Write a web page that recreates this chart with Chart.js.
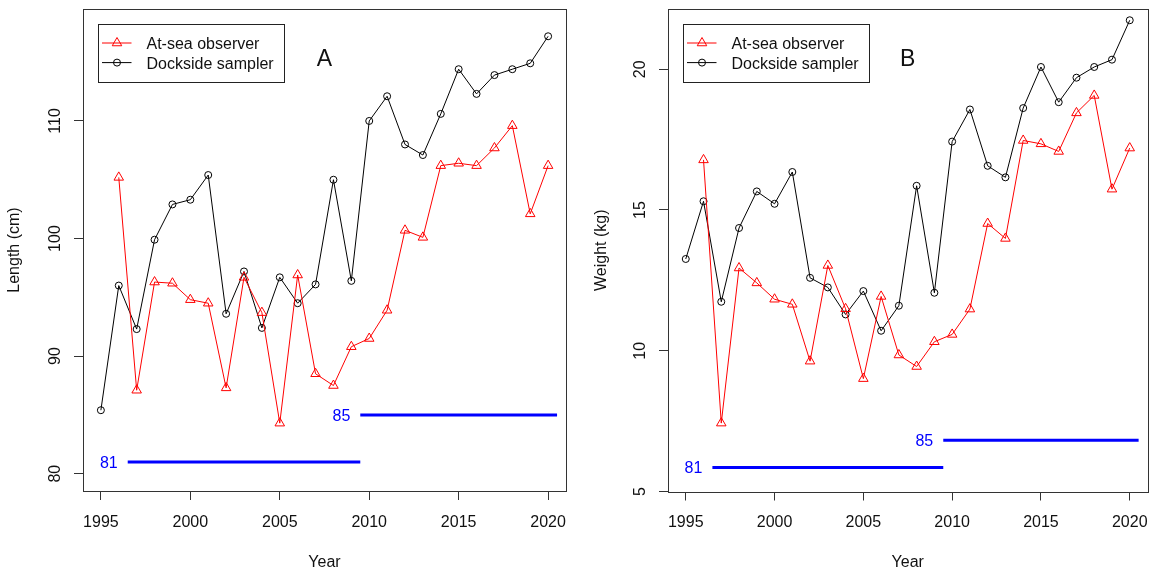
<!DOCTYPE html>
<html>
<head>
<meta charset="utf-8">
<script src="https://cdn.jsdelivr.net/npm/chart.js@4.4.0/dist/chart.umd.min.js"></script>
<style>
  html, body { margin: 0; padding: 0; background: #fff; }
  #wrap { position: relative; width: 1154px; height: 568px; }
  canvas { position: absolute; top: 0; }
</style>
</head>
<body>
<div id="wrap">
  <canvas id="panelA" width="577" height="568" style="left:0"></canvas>
  <canvas id="panelB" width="577" height="568" style="left:577px"></canvas>
</div>
<script>
const years = [1995, 1996, 1997, 1998, 1999, 2000, 2001, 2002, 2003, 2004, 2005, 2006, 2007,
               2008, 2009, 2010, 2011, 2012, 2013, 2014, 2015, 2016, 2017, 2018, 2019, 2020];

// panel A - length (cm)
const lengthObserver = [null, 105.2, 87.1, 96.3, 96.2, 94.8, 94.5, 87.3, 96.7, 93.7, 84.3, 96.9, 88.5,
                        87.5, 90.8, 91.5, 93.9, 100.7, 100.1, 106.2, 106.4, 106.2, 107.7, 109.6, 102.1, 106.2];
const lengthDockside = [85.4, 96.0, 92.3, 99.9, 102.9, 103.3, 105.4, 93.6, 97.2, 92.4, 96.7, 94.5, 96.1,
                        105.0, 96.4, 110.0, 112.1, 108.0, 107.1, 110.6, 114.4, 112.3, 113.9, 114.4, 114.9, 117.2];

// panel B - weight (kg)
const weightObserver = [null, 16.78, 7.43, 12.94, 12.41, 11.83, 11.65, 9.63, 13.03, 11.49, 9.01, 11.93, 9.85,
                        9.44, 10.32, 10.58, 11.48, 14.52, 13.99, 17.47, 17.35, 17.08, 18.45, 19.07, 15.74, 17.2];
const weightDockside = [13.26, 15.31, 11.74, 14.36, 15.66, 15.22, 16.35, 12.59, 12.25, 11.29, 12.12, 10.71, 11.6,
                        15.86, 12.06, 17.43, 18.57, 16.57, 16.16, 18.62, 20.08, 18.83, 19.7, 20.08, 20.34, 21.74];

// minimum size periods
const limitLabels = ['81', '85'];
const limitStart = [1996.5, 2009.5];
const limitEnd = [2009.5, 2020.5];
const lengthLimits = [81, 85];
const weightLimits = [5.85, 6.82];

const yearTicks = [1995, 2000, 2005, 2010, 2015, 2020];
const lengthTicks = [80, 90, 100, 110];
const weightTicks = [5, 10, 15, 20];

const FONT = '"Liberation Sans", Arial, Helvetica, sans-serif';
const pairs = (xs, ys) => xs.map((x, i) => ({ x: x, y: ys[i] }));

// box, rotated y labels, axis titles, legend, panel letter and limit labels (R style)
const rDecor = {
  id: 'rDecor',
  afterDraw(chart, args, o) {
    const { ctx, chartArea: a, scales: { x, y } } = chart;
    ctx.save();
    ctx.strokeStyle = '#333';
    ctx.lineWidth = 1;
    ctx.strokeRect(Math.round(a.left) + 0.5, Math.round(a.top) + 0.5,
                   Math.round(a.right - a.left), Math.round(a.bottom - a.top));

    ctx.fillStyle = '#111';
    ctx.font = '16px ' + FONT;
    ctx.textBaseline = 'alphabetic';

    // x tick labels
    ctx.textAlign = 'center';
    yearTicks.forEach(v => ctx.fillText(String(v), x.getPixelForValue(v), 527));

    // y tick labels, rotated
    o.yTicks.forEach(v => {
      ctx.save();
      ctx.translate(a.left - 29 + 5.7, y.getPixelForValue(v));
      ctx.rotate(-Math.PI / 2);
      ctx.fillText(String(v), 0, 0);
      ctx.restore();
    });

    // axis titles
    const midX = (a.left + a.right) / 2, midY = (a.top + a.bottom) / 2;
    ctx.fillText('Year', midX, 566.5);
    ctx.save();
    ctx.translate(o.yTitleX, midY);
    ctx.rotate(-Math.PI / 2);
    ctx.fillText(o.yTitle, 0, 0);
    ctx.restore();

    // panel letter
    ctx.font = '23px ' + FONT;
    ctx.fillText(o.letter, x.getPixelForValue(2007.5), 66);

    // limit labels
    ctx.font = '16px ' + FONT;
    ctx.fillStyle = '#0000ff';
    ctx.textAlign = 'right';
    limitLabels.forEach((t, i) => {
      ctx.fillText(t, x.getPixelForValue(limitStart[i]) - 10, y.getPixelForValue(o.limits[i]) + 5.7);
    });

    // legend
    const lx = a.left + 14.5, ly = a.top + 14.5;
    ctx.strokeStyle = '#222';
    ctx.strokeRect(Math.round(lx) + 0.5, Math.round(ly) + 0.5, 186, 58);
    ctx.textAlign = 'left';
    [0, 1].forEach(i => {
      const ds = chart.data.datasets[i];
      const ry = ly + 19.5 + i * 19.6;
      ctx.strokeStyle = ds.borderColor;
      ctx.lineWidth = 1;
      ctx.beginPath();
      ctx.moveTo(lx + 4.5, ry);
      ctx.lineTo(lx + 34, ry);
      ctx.stroke();
      ctx.fillStyle = 'rgba(0,0,0,0)';
      Chart.helpers.drawPoint(ctx, {
        pointStyle: ds.pointStyle, radius: ds.pointRadius, borderWidth: 1, rotation: 0
      }, lx + 19.5, ry);
      ctx.fillStyle = '#111';
      ctx.fillText(ds.label, lx + 49, ry + 6.2);
    });
    ctx.restore();
  }
};

function makePanel(id, observer, dockside, limits, yMin, yMax, yTicks, o) {
  const limitSets = limits.map((v, i) => ({
    label: 'limit' + i,
    data: [{ x: limitStart[i], y: v }, { x: limitEnd[i], y: v }],
    borderColor: '#0000ff',
    borderWidth: 3,
    pointRadius: 0
  }));
  return new Chart(document.getElementById(id), {
    type: 'line',
    data: {
      datasets: [
        {
          label: 'At-sea observer',
          data: pairs(years, observer),
          borderColor: '#ff0000',
          borderWidth: 1,
          pointStyle: 'triangle',
          pointRadius: 5.5,
          pointBorderWidth: 1,
          pointBorderColor: '#ff0000',
          pointBackgroundColor: 'rgba(0,0,0,0)'
        },
        {
          label: 'Dockside sampler',
          data: pairs(years, dockside),
          borderColor: '#000000',
          borderWidth: 1,
          pointStyle: 'circle',
          pointRadius: 3.5,
          pointBorderWidth: 1,
          pointBorderColor: '#000000',
          pointBackgroundColor: 'rgba(0,0,0,0)'
        },
        ...limitSets
      ]
    },
    options: {
      responsive: false,
      animation: false,
      events: [],
      layout: { padding: { left: 0, right: o.padRight, top: 9, bottom: 0 } },
      plugins: {
        legend: { display: false },
        tooltip: { enabled: false },
        rDecor: { yTicks: yTicks, yTitle: o.yTitle, yTitleX: o.yTitleX, letter: o.letter, limits: limits }
      },
      scales: {
        x: {
          type: 'linear',
          min: 1994,
          max: 2021,
          afterBuildTicks: s => { s.ticks = yearTicks.map(v => ({ value: v })); },
          afterFit: s => { s.height = o.xHeight; },
          ticks: { display: false },
          border: { display: false },
          grid: { drawOnChartArea: false, drawTicks: true, tickLength: 9, color: '#333' }
        },
        y: {
          type: 'linear',
          min: yMin,
          max: yMax,
          afterBuildTicks: s => { s.ticks = yTicks.map(v => ({ value: v })); },
          afterFit: s => { s.width = o.yWidth; },
          ticks: { display: false },
          border: { display: false },
          grid: { drawOnChartArea: false, drawTicks: true, tickLength: 9, color: '#333' }
        }
      }
    },
    plugins: [rDecor]
  });
}

makePanel('panelA', lengthObserver, lengthDockside, lengthLimits, 78.53, 119.52, lengthTicks,
  { yWidth: 83, padRight: 11, xHeight: 77, yTitle: 'Length (cm)', yTitleX: 19.2, letter: 'A' });
makePanel('panelB', weightObserver, weightDockside, weightLimits, 5, 22.14, weightTicks,
  { yWidth: 91, padRight: 3, xHeight: 76.5, yTitle: 'Weight (kg)', yTitleX: 28.7, letter: 'B' });
</script>
</body>
</html>
